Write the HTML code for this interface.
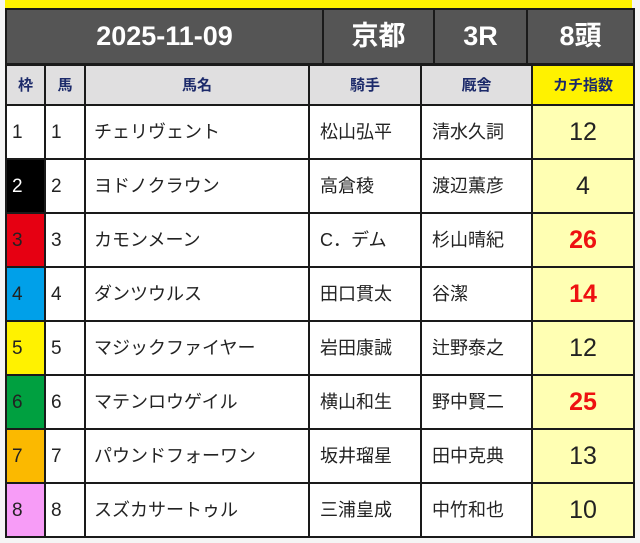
<!DOCTYPE html>
<html><head><meta charset="utf-8"><style>
body{margin:0;width:640px;height:543px;background:#f5f5f5;font-family:"Liberation Sans","Noto Sans CJK JP",sans-serif;position:relative;overflow:hidden}
.y{position:absolute;left:5px;top:0;width:627px;height:8px;background:#fff200}
table{position:absolute;border-collapse:collapse;table-layout:fixed}
td{border:2px solid #1a1a1a;padding:0;overflow:hidden;white-space:nowrap;line-height:1}
#h{left:5px;top:8px;width:628px}
#h td{background:#555;color:#fff;font-weight:bold;font-size:27px;text-align:center;height:53px}
#t{left:5px;top:64px;width:628px}
#t tr.hd td{background:#e0dfe0;color:#1c2a6a;font-weight:bold;font-size:15px;text-align:center;height:38px}
#t tr.hd td.k{background:#fff200;color:#1c2a6a}
#t tr.r td{background:#fff;height:52px;font-size:19px;color:#222}
#t tr.r td.n{padding-left:5px}
#t tr.r td.nm{padding-left:8px;font-size:18px}
#t tr.r td.j{padding-left:10px;font-size:18px}
#t tr.r td.s{background:#ffffb3;text-align:center;font-size:25px}
#t tr.r td.s.red{color:#ee1111;font-weight:bold}
</style></head><body>
<div class="y"></div>
<table id="h"><colgroup><col style="width:317px"><col style="width:111px"><col style="width:93px"><col style="width:107px"></colgroup>
<tr><td>2025-11-09</td><td>京都</td><td>3R</td><td>8頭</td></tr></table>
<table id="t"><colgroup><col style="width:39px"><col style="width:40px"><col style="width:224px"><col style="width:112px"><col style="width:111px"><col style="width:102px"></colgroup>
<tr class="hd"><td>枠</td><td>馬</td><td>馬名</td><td>騎手</td><td>厩舎</td><td class="k">カチ指数</td></tr>
<tr class="r"><td class="n">1</td><td class="n">1</td><td class="nm">チェリヴェント</td><td class="j">松山弘平</td><td class="j">清水久詞</td><td class="s">12</td></tr>
<tr class="r"><td class="n" style="background:#000;color:#fff">2</td><td class="n">2</td><td class="nm">ヨドノクラウン</td><td class="j">高倉稜</td><td class="j">渡辺薫彦</td><td class="s">4</td></tr>
<tr class="r"><td class="n" style="background:#e60012">3</td><td class="n">3</td><td class="nm">カモンメーン</td><td class="j">C．デム</td><td class="j">杉山晴紀</td><td class="s red">26</td></tr>
<tr class="r"><td class="n" style="background:#00a0e9">4</td><td class="n">4</td><td class="nm">ダンツウルス</td><td class="j">田口貫太</td><td class="j">谷潔</td><td class="s red">14</td></tr>
<tr class="r"><td class="n" style="background:#fff200">5</td><td class="n">5</td><td class="nm">マジックファイヤー</td><td class="j">岩田康誠</td><td class="j">辻野泰之</td><td class="s">12</td></tr>
<tr class="r"><td class="n" style="background:#00a040">6</td><td class="n">6</td><td class="nm">マテンロウゲイル</td><td class="j">横山和生</td><td class="j">野中賢二</td><td class="s red">25</td></tr>
<tr class="r"><td class="n" style="background:#fbb900">7</td><td class="n">7</td><td class="nm">パウンドフォーワン</td><td class="j">坂井瑠星</td><td class="j">田中克典</td><td class="s">13</td></tr>
<tr class="r"><td class="n" style="background:#f79cf7">8</td><td class="n">8</td><td class="nm">スズカサートゥル</td><td class="j">三浦皇成</td><td class="j">中竹和也</td><td class="s">10</td></tr>
</table>
</body></html>
